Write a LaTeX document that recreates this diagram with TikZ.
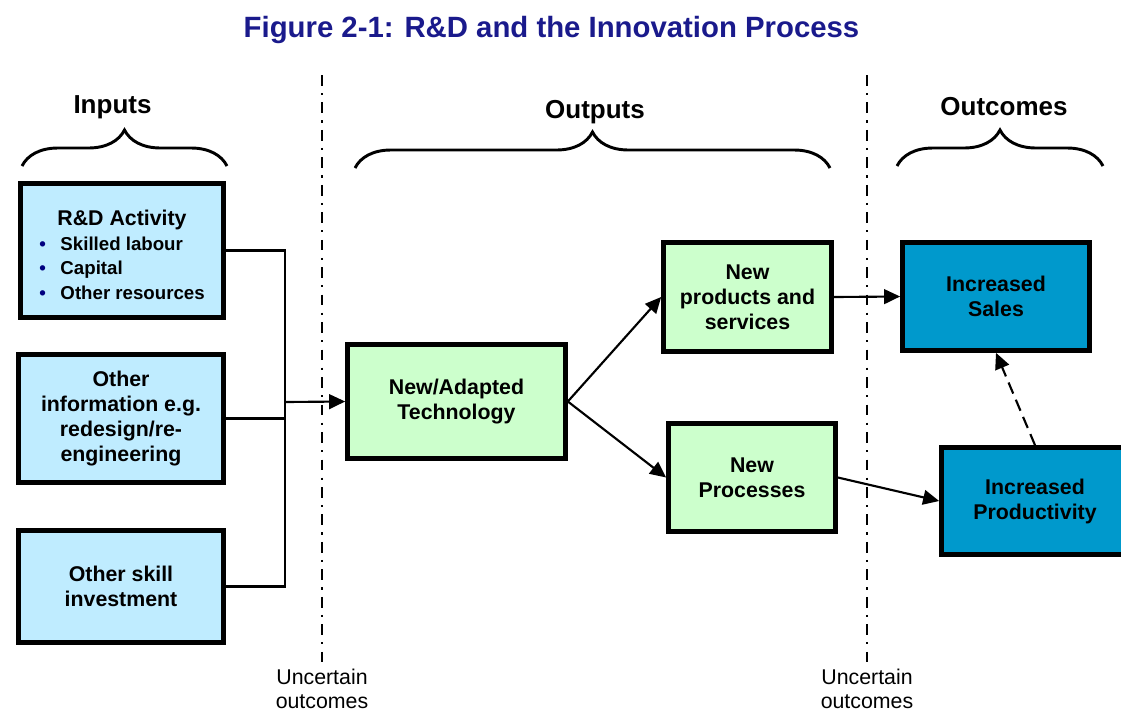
\documentclass[tikz,border=0pt]{standalone}
\usepackage{fontspec}
\setmainfont{Liberation Sans}
\usetikzlibrary{arrows.meta,decorations.pathreplacing}

\definecolor{inblue}{RGB}{191,236,255}
\definecolor{outgreen}{RGB}{204,255,204}
\definecolor{endblue}{RGB}{0,153,204}
\definecolor{titlenavy}{RGB}{26,26,140}
\definecolor{dotnavy}{RGB}{0,0,128}

\tikzset{every picture/.style={line width=0.75pt}}
\tikzset{
  stage/.style={draw=black, line width=3.5pt, align=center, inner sep=0pt,
    font=\bfseries\fontsize{16}{18.75}\selectfont},
  inbox/.style={stage, fill=inblue},
  outbox/.style={stage, fill=outgreen},
  endbox/.style={stage, fill=endblue},
  link/.style={line width=1.6pt},
  linkarrow/.style={link, -{Triangle[length=12pt,width=11pt]}},
  heading/.style={font=\bfseries\fontsize{19.5}{23}\selectfont, inner sep=0pt},
  bracket/.style={line width=2.2pt, decorate, decoration={brace, amplitude=27pt}},
  divider/.style={line width=1.6pt, dash pattern={on 8pt off 5.5pt on 1.6pt off 5.5pt}},
  remark/.style={font=\fontsize{16}{17.5}\selectfont, align=center, inner sep=0pt, anchor=north},
}

\begin{document}
\begin{tikzpicture}[x=0.75pt,y=0.75pt,yscale=-1,xscale=1]
\useasboundingbox (0,0) rectangle (1121,715);

% Title
\node (title) at (551.5,30) [font=\bfseries\fontsize{22}{26}\selectfont, text=titlenavy, inner sep=0pt] {Figure 2-1: R\&D and the Innovation Process};

% Headings and braces
\node (inputs) at (112.5,107) [heading] {Inputs};
\node (outputs) at (595,112) [heading] {Outputs};
\node (outcomes) at (1004,107) [heading] {Outcomes};
\draw [bracket] (22,166) -- (227,166);
\draw [bracket] (355,168) -- (830,168);
\draw [bracket] (897,166) -- (1103,166);

% Uncertain outcomes dividers
\node (uncA) at (322,669) [remark] {Uncertain\\outcomes};
\node (uncB) at (867,669) [remark] {Uncertain\\outcomes};
\coordinate (topA) at (322,75);
\coordinate (topB) at (867,75);
\draw [divider] (topA) -- ([yshift=-4]uncA.north);
\draw [divider] (topB) -- ([yshift=-4]uncB.north);

% Inputs
\node (rnd) at (122,250.5) [inbox, minimum width=152.3pt, minimum height=100.5pt,
    font=\bfseries\fontsize{14}{18.4}\selectfont]
  {\raisebox{-5.25pt}[\height][\depth]{\begin{tabular}{@{}l@{\hspace{11pt}}l@{}}
   \multicolumn{2}{c}{\fontsize{16}{18.4}\selectfont R\&D Activity}\\
   {\color{dotnavy}\textbullet} & Skilled labour\\
   {\color{dotnavy}\textbullet} & Capital\\
   {\color{dotnavy}\textbullet} & Other resources
   \end{tabular}}};
\node (info) at (121,418.5) [inbox, minimum width=153.8pt, minimum height=96pt]
  {Other\\information e.g.\\redesign/re-\\engineering};
\node (skill) at (121,586.5) [inbox, minimum width=153.8pt, minimum height=84pt]
  {Other skill\\investment};

% Outputs
\node (tech) at (456.5,401.5) [outbox, minimum width=163.5pt, minimum height=85.5pt]
  {New/Adapted\\Technology};
\node (prod) at (747.5,297) [outbox, minimum width=126pt, minimum height=81.8pt]
  {New\\products and\\services};
\node (proc) at (752,477.5) [outbox, minimum width=125.3pt, minimum height=81pt]
  {New\\Processes};

% Outcomes
\node (sales) at (996,296.5) [endbox, minimum width=140.3pt, minimum height=81pt]
  {Increased\\Sales};
\node (prodty) at (1035,501) [endbox, minimum width=140.3pt, minimum height=80.3pt]
  {Increased\\Productivity};

% Connectors
\coordinate (bus) at (285,402);
\draw [link] (rnd.east) -| (bus |- skill.east) -- (skill.east);
\draw [link] (info.east) -- (bus |- info.east);
\draw [linkarrow] (bus) -- (tech.west);
\draw [linkarrow] (tech.east) -- (prod.west);
\draw [linkarrow] (tech.east) -- (proc.west);
\draw [linkarrow] (prod.east) -- (sales.west);
\draw [linkarrow] (proc.east) -- (prodty.west);
\draw [linkarrow, dash pattern={on 9pt off 5pt}] (prodty.north) -- (sales.south);

\end{tikzpicture}
\end{document}
